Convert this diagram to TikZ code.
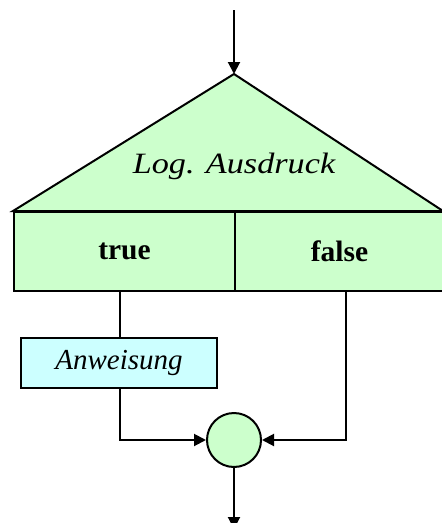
\documentclass[tikz,border=0pt]{standalone}
\usepackage{fontspec}
\setmainfont{Liberation Serif}
\usetikzlibrary{arrows.meta}
\definecolor{lgreen}{HTML}{CCFFCC}
\definecolor{lcyan}{HTML}{CCFFFF}
\begin{document}
\begin{tikzpicture}[x=1pt,y=-1pt,
  line/.style={line width=2pt,draw=black},
  arr/.style={line,-{Triangle[length=12pt,width=12pt]}},
  cell/.style={line,fill=lgreen,rectangle,minimum height=79pt,inner sep=0pt,anchor=north west,font=\fontsize{29.5}{30}\selectfont\bfseries},
  stmt/.style={line,fill=lcyan,rectangle,minimum width=196pt,minimum height=50pt,inner sep=0pt,font=\fontsize{29}{30}\selectfont\itshape},
  joint/.style={line,fill=lgreen,circle,minimum size=54pt,inner sep=0pt}
]
\useasboundingbox (0,0) rectangle (442,523);
\coordinate (start) at (234,10);
\coordinate (apex) at (234,74);
\coordinate (bl) at (13,211);
\coordinate (br) at (443,211);
\draw[line,fill=lgreen] (bl) -- (apex) -- (br) -- cycle;
\node[font=\fontsize{29.5}{30}\selectfont\itshape] (cond) at (234,166) {\scalebox{1.16}[1]{Log. Ausdruck}};
\node[cell,minimum width=221pt] (truebox) at (13,211) {true};
\node[cell,minimum width=209pt] (falsebox) at (234,211) {false};
\node[stmt] (anw) at (119,363) {Anweisung};
\node[joint] (merge) at (234,440) {};
\coordinate (rtop) at (346,290);
\coordinate (rcorner) at (346,440);
\coordinate (lcorner) at (120,440);
\coordinate (endpt) at (234,529);
\draw[arr] (start) -- (apex);
\draw[line] (anw.north -| lcorner) -- (lcorner |- truebox.south);
\draw[arr] (anw.south -| lcorner) -- (lcorner) -- (merge.west);
\draw[arr] (rtop) -- (rcorner) -- (merge.east);
\draw[arr] (merge.south) -- (endpt);
\end{tikzpicture}
\end{document}
